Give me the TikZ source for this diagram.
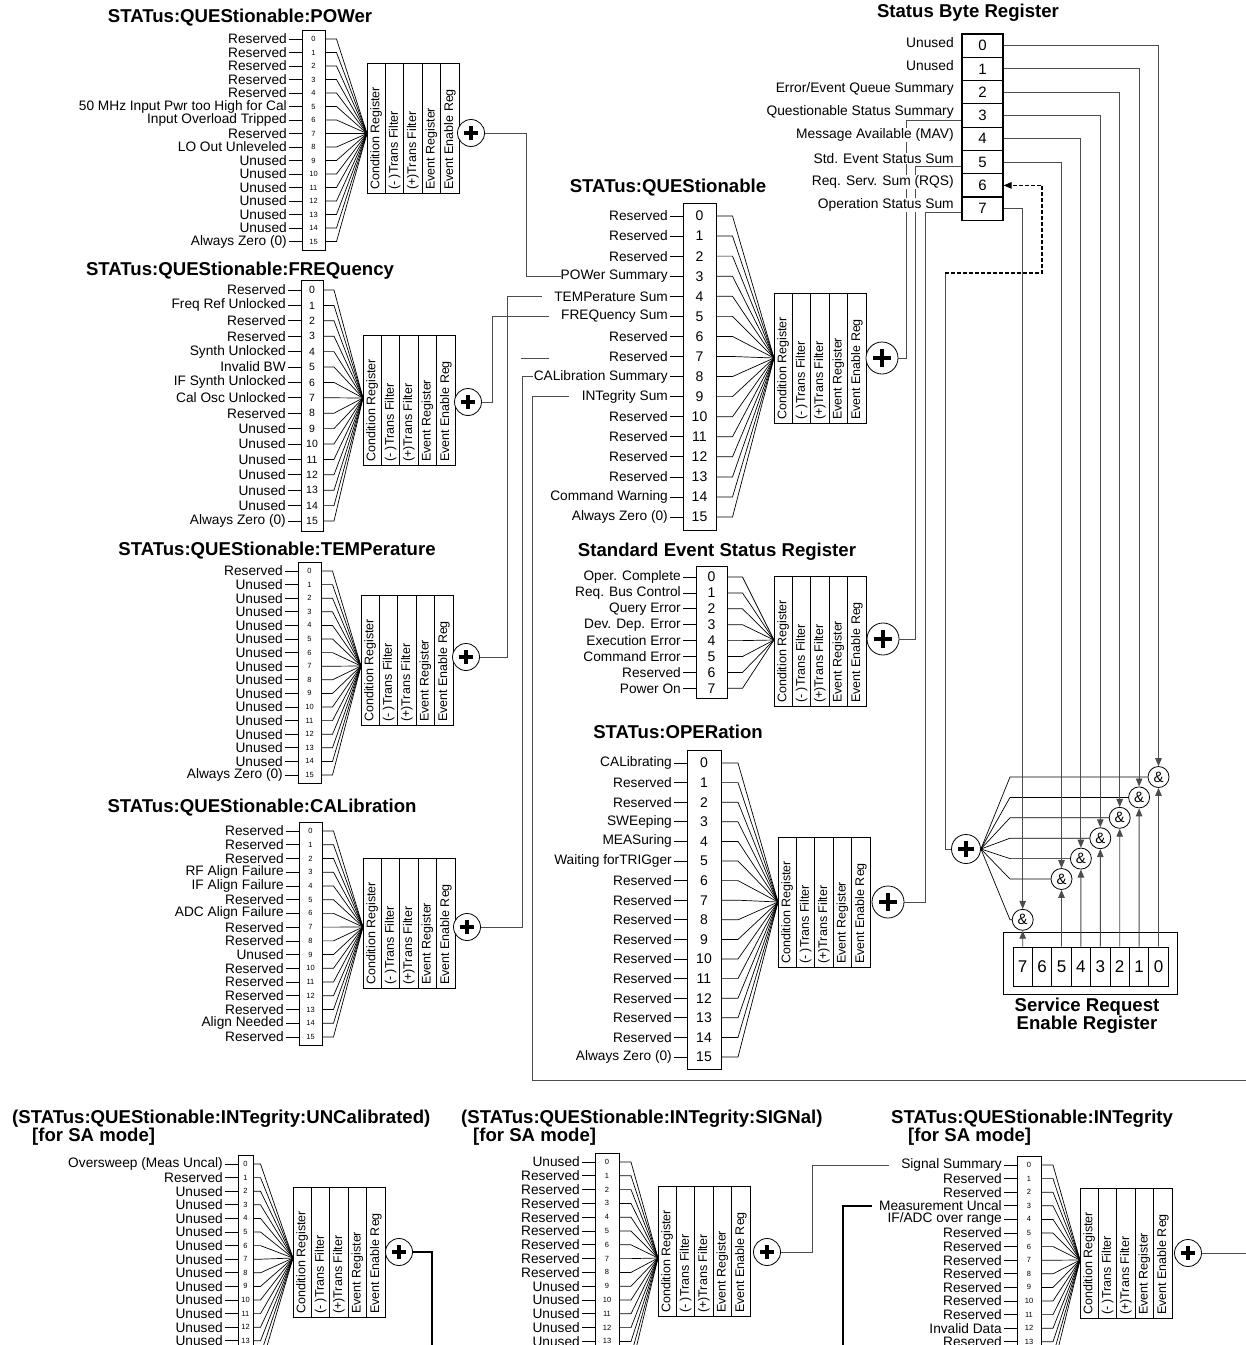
\documentclass[tikz,border=0pt]{standalone}
\usepackage{fontspec}
\setmainfont{Liberation Sans}
\usetikzlibrary{arrows.meta,positioning,calc}

\tikzset{
  wire/.style={line width=0.9pt, black!70},
  fanline/.style={line width=0.7pt, black},
  box/.style={line width=0.8pt, black},
  heavy/.style={line width=1.5pt, black},
  bitlab/.style={anchor=east, inner sep=0pt, font=\fontsize{13.7}{13.7}\selectfont},
  title/.style={inner sep=0pt, font=\bfseries\fontsize{18.6}{18.6}\selectfont},
  regtxt/.style={rotate=90, anchor=west, inner sep=0pt, font=\fontsize{12.5}{12.5}\selectfont},
  orgate/.style={circle, draw, line width=0.8pt, fill=white, minimum size=#1, inner sep=0pt,
    path picture={\draw[line width=0.12*#1]
      ([xshift=-0.27*#1]path picture bounding box.center) -- ([xshift=0.27*#1]path picture bounding box.center)
      ([yshift=-0.27*#1]path picture bounding box.center) -- ([yshift=0.27*#1]path picture bounding box.center);}},
  andgate/.style={circle, draw, line width=0.8pt, fill=white, minimum size=21pt, inner sep=0pt, font=\fontsize{15}{15}\selectfont},
  sbcell/.style={draw, line width=1.2pt, minimum width=41pt, minimum height=23.3pt, inner sep=0pt, font=\fontsize{15}{15}\selectfont},
  sblab/.style={anchor=east, fill=white, inner sep=0.5pt, font=\fontsize{13.8}{13.8}\selectfont},
  srecell/.style={draw, line width=0.8pt, minimum width=19.4pt, minimum height=39pt, inner sep=0pt, font=\fontsize{17}{17}\selectfont},
  tip/.style={-{Triangle[length=8pt,width=6.5pt]}},
}

% one column of bits: name, box x, box width, first row y, pitch, last row, digit size, labels
\newcommand{\bitstack}[8]{%
  \draw[box] (#2,#4-0.65*#5) rectangle (#2+#3,#4+#6*#5+0.65*#5);
  \foreach \k in {0,...,#6} {
    \draw[fanline] (#2-13,#4+\k*#5) -- (#2,#4+\k*#5);
    \coordinate (#1-t\k) at (#2+1.5*#3,#4+\k*#5);
    \draw[fanline] (#2+#3,#4+\k*#5) -- (#1-t\k) -- (#1-cv);
  }
  \foreach \txt [count=\k from 0] in {#8} {
    \node[bitlab] (#1-l\k) at (#2-15,#4+\k*#5) {\txt};
    \node[inner sep=0pt, font=\fontsize{#7}{#7}\selectfont] (#1-n\k) at (#2+#3/2,#4+\k*#5) {\k};
  }
}

% the five register columns: name, left x, top y
\newcommand{\regcols}[3]{%
  \node[draw, box, minimum width=92pt, minimum height=130pt, inner sep=0pt, anchor=north west] (#1-reg) at (#2,#3) {};
  \foreach \col [count=\c from 0] in {Condition Register,(- )Trans Filter,(+)Trans Filter,Event Register,Event Enable Reg} {
    \draw[box] (#2+\c*18.4,#3) -- (#2+\c*18.4,#3+130);
    \node[regtxt] at (#2+\c*18.4+9.2,#3+127) {\col};
  }
}

\begin{document}
\begin{tikzpicture}[x=1pt, y=-1pt]
  \useasboundingbox (0,0) rectangle (1246,1345);
  \fill[white] (0,0) rectangle (1246,1345);
  \clip (0,0) rectangle (1246,1345);

  % POWer
  \node[title] (pow-title) at (240,18) {STATus:QUEStionable:POWer};
  \coordinate (pow-cv) at (367,133.5);
  \regcols{pow}{367}{63}
  \bitstack{pow}{302}{23}{39}{13.5}{15}{7.5}{Reserved,Reserved,Reserved,Reserved,Reserved,50 MHz Input Pwr  too High for Cal,Input Overload Tripped,Reserved,LO Out  Unleveled,Unused,Unused,Unused,Unused,Unused,Unused,Always Zero (0)}
  \node[orgate=27pt] (pow-or) at (471,133) {};

  % FREQuency
  \node[title] (freq-title) at (240,271) {STATus:QUEStionable:FREQuency};
  \coordinate (freq-cv) at (363,398);
  \regcols{freq}{363}{335}
  \bitstack{freq}{301}{22}{290}{15.4}{15}{10.5}{Reserved,Freq Ref  Unlocked,Reserved,Reserved,Synth Unlocked,Invalid BW,IF Synth Unlocked,Cal Osc Unlocked,Reserved,Unused,Unused,Unused,Unused,Unused,Unused,Always Zero (0)}
  \node[orgate=27pt] (freq-or) at (468,402) {};

  % TEMPerature
  \node[title] (temp-title) at (277,551) {STATus:QUEStionable:TEMPerature};
  \coordinate (temp-cv) at (361,666);
  \regcols{temp}{361}{595}
  \bitstack{temp}{298}{23}{571}{13.6}{15}{7.5}{Reserved,Unused,Unused,Unused,Unused,Unused,Unused,Unused,Unused,Unused,Unused,Unused,Unused,Unused,Unused,Always Zero (0)}
  \node[orgate=27pt] (temp-or) at (466,657) {};

  % CALibration
  \node[title] (cal-title) at (262,808) {STATus:QUEStionable:CALibration};
  \coordinate (cal-cv) at (363,927);
  \regcols{cal}{363}{858}
  \bitstack{cal}{299}{23}{831}{13.73}{15}{7.5}{Reserved,Reserved,Reserved,RF Align Failure,IF Align Failure,Reserved,ADC Align Failure,Reserved,Reserved,Unused,Reserved,Reserved,Reserved,Reserved,Align Needed,Reserved}
  \node[orgate=27pt] (cal-or) at (467,927) {};

  % QUEStionable
  \node[title] (ques-title) at (668,188) {STATus:QUEStionable};
  \coordinate (ques-cv) at (774,358);
  \regcols{ques}{774}{293}
  \bitstack{ques}{683}{33}{216}{20.07}{15}{14}{Reserved,Reserved,Reserved,POWer Summary,TEMPerature Sum,FREQuency Sum,Reserved,Reserved,CALibration Summary,INTegrity Sum,Reserved,Reserved,Reserved,Reserved,Command Warning,Always Zero (0)}
  \node[orgate=32pt] (ques-or) at (882,358) {};

  % Standard Event Status
  \node[title] (esr-title) at (717,552) {Standard Event Status Register};
  \coordinate (esr-cv) at (774,640);
  \regcols{esr}{774}{576}
  \bitstack{esr}{696}{31}{577}{15.9}{7}{14}{Oper. Complete,Req. Bus Control,Query Error,Dev. Dep. Error,Execution Error,Command Error,Reserved,Power On}
  \node[orgate=32pt] (esr-or) at (883,639) {};

  % OPERation
  \node[title] (oper-title) at (678,732) {STATus:OPERation};
  \coordinate (oper-cv) at (778,902);
  \regcols{oper}{778}{837}
  \bitstack{oper}{687}{34}{763}{19.6}{15}{14}{CALibrating,Reserved,Reserved,SWEeping,MEASuring,Waiting forTRIGger,Reserved,Reserved,Reserved,Reserved,Reserved,Reserved,Reserved,Reserved,Reserved,Always Zero (0)}
  \node[orgate=32pt] (oper-or) at (888,902) {};

  % INTegrity:UNCalibrated
  \node[title, anchor=base west] (unc-title) at (12,1123) {(STATus:QUEStionable:INTegrity:UNCalibrated)};
  \node[title, anchor=base west] (unc-mode) at (32,1141) {[for SA mode]};
  \coordinate (unc-cv) at (293,1258);
  \regcols{unc}{293}{1187}
  \bitstack{unc}{238}{15}{1164}{13.6}{15}{7.5}{Oversweep (Meas Uncal),Reserved,Unused,Unused,Unused,Unused,Unused,Unused,Unused,Unused,Unused,Unused,Unused,Unused}
  \node[orgate=27pt] (unc-or) at (399,1252) {};

  % INTegrity:SIGNal
  \node[title, anchor=base west] (sign-title) at (461,1123) {(STATus:QUEStionable:INTegrity:SIGNal)};
  \node[title, anchor=base west] (sign-mode) at (473,1141) {[for SA mode]};
  \coordinate (sign-cv) at (658,1258);
  \regcols{sign}{658}{1186}
  \bitstack{sign}{595}{24}{1162}{13.8}{15}{7.5}{Unused,Reserved,Reserved,Reserved,Reserved,Reserved,Reserved,Reserved,Reserved,Unused,Unused,Unused,Unused,Unused}
  \node[orgate=27pt] (sign-or) at (767,1252) {};

  % INTegrity
  \node[title, anchor=base west] (int-title) at (891,1123) {STATus:QUEStionable:INTegrity};
  \node[title, anchor=base west] (int-mode) at (908,1141) {[for SA mode]};
  \coordinate (int-cv) at (1080,1260);
  \regcols{int}{1080}{1188}
  \bitstack{int}{1017}{24}{1165}{13.6}{15}{7.5}{Signal Summary,Reserved,Reserved,Measurement Uncal,IF/ADC over range,Reserved,Reserved,Reserved,Reserved,Reserved,Reserved,Reserved,Invalid Data,Reserved}
  \node[orgate=27pt] (int-or) at (1188,1253) {};

  % summaries into STATus:QUEStionable
  \draw[wire] (pow-or.east) -| (526,0 |- ques-l3.west) -- (ques-l3.west);
  \draw[wire] (freq-or.east) -| (492,0 |- ques-l5.west) -- ([xshift=-12pt]ques-l5.west);
  \draw[wire] (temp-or.east) -| (507,0 |- ques-l4.west) -- ([xshift=-12pt]ques-l4.west);
  \draw[wire] (cal-or.east) -| (522,0 |- ques-l8.west) -- ([xshift=-1pt]ques-l8.west);
  \draw[wire] (521,358) -- (549,358);
  \coordinate (int-in) at (1246,1080);
  \draw[wire] (int-in) -| (532,0 |- ques-l9.west) -- ([xshift=-13pt]ques-l9.west);
  \coordinate (int-out) at (1246,1253);
  \draw[wire] (int-or.east) -- (int-out);
  \draw[wire] (sign-or.east) -| (812,0 |- int-l0.west) -- ([xshift=-12pt]int-l0.west);
  \coordinate (unc-out) at (432,1345);
  \draw[heavy] (unc-or.east) -| (unc-out);
  \coordinate (unc-in) at (843,1345);
  \draw[heavy] (unc-in) |- ([xshift=-7pt]int-l3.west);

  % Status Byte
  \node[title] (sb-title) at (968,13) {Status Byte Register};
  \foreach \i in {0,...,7}
    \node[sbcell] (sb\i) at (982.5,45.6+\i*23.3) {\i};

  % Service Request Enable
  \node[draw, box, minimum width=174pt, minimum height=62pt] (sre-box) at (1090,963) {};
  \foreach \b [count=\j from 0] in {7,6,5,4,3,2,1,0}
    \node[srecell] (sre\b) at (1022.7+\j*19.4,966.5) {\b};
  \node[title, align=center, font=\bfseries\fontsize{18.6}{16}\selectfont] (sre-title) at (1087,1016) {Service Request\\Enable Register};

  \node[orgate=29pt] (srq-or) at (966,849) {};
  \foreach \b in {0,1,2,3,4,5,7}
    \node[andgate] (g\b) at ({1158.5-\b*19.4},{777+\b*20.4}) {\&};
  \foreach \b in {0,1,2,3,4,5,7} {
    \draw[wire,tip] (sb\b.east) -| (g\b.north);
    \draw[wire,tip] (sre\b.north) -- (g\b.south);
    \draw[fanline] (srq-or.east) -- ({1010},{777+\b*20.4}) -- (g\b.west);
  }
  \coordinate (rqs-turn) at (945,273);
  \draw[wire] (rqs-turn) |- (srq-or.west);
  \draw[line width=1.2pt, dash pattern=on 4pt off 2pt, tip] (rqs-turn) -- (1042,273) |- (sb6.east);

  % register summaries into the Status Byte
  \draw[wire] (ques-or.east) -| (906,120) -- (sb3.west |- 0,120);
  \draw[wire] (esr-or.east) -| (915,166) -- (sb5.west |- 0,166);
  \draw[wire] (oper-or.east) -| (925,212) -- (sb7.west |- 0,212);

  \foreach \txt [count=\i from 0] in {Unused,Unused,Error/Event Queue Summary,Questionable Status Summary,Message Available (MAV),Std. Event Status Sum,Req. Serv. Sum (RQS),Operation Status Sum}
    \node[sblab] (sb\i-lab) at ([xshift=-7pt,yshift=3.5pt]sb\i.west) {\txt};
\end{tikzpicture}
\end{document}
